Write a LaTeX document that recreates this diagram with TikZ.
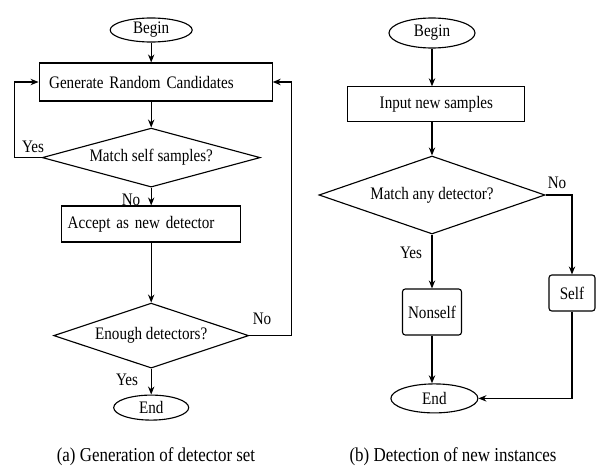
\documentclass[tikz,border=0pt]{standalone}
\usepackage{fontspec}
\setmainfont{Liberation Serif}[FakeStretch=0.86]
\usetikzlibrary{arrows.meta,positioning,shapes.geometric}
\tikzset{
  >={Stealth[length=2mm,width=1.6mm]},
  term/.style={ellipse,draw,line width=0.8pt,inner sep=0pt},
  proc/.style={draw,line width=0.8pt,inner sep=0pt},
  decide/.style={diamond,draw,line width=0.8pt,inner sep=0pt,aspect=#1},
  decide/.default=3,
  flow/.style={->,line width=0.8pt},
  tag/.style={inner sep=0pt},
  subcap/.style={font=\fontsize{14}{16}\selectfont},
}
\begin{document}
\begin{tikzpicture}[font=\fontsize{12.5}{14}\selectfont]
  \useasboundingbox (0,0) rectangle (14.975,11.65);
  % (a) generation of detector set
  \node[term,minimum width=20.5mm,minimum height=6mm] (begina) at (3.78,10.90) {Begin};
  \node[proc,minimum width=58.25mm,minimum height=9.5mm,inner xsep=2.5mm,text width=53.25mm,align=left] (gen) at (3.89,9.60) {Generate Random Candidates};
  \node[decide=3.7,minimum width=54.5mm,minimum height=14.75mm] (selfq) at (3.78,7.71) {Match self samples?};
  \node[proc,minimum width=44.75mm,minimum height=9mm,inner xsep=1.5mm,text width=41.75mm,align=left] (accept) at (3.78,6.05) {Accept as new detector};
  \node[decide=3,minimum width=48.75mm,minimum height=16.25mm] (enough) at (3.78,3.26) {Enough detectors?};
  \node[term,minimum width=18.75mm,minimum height=6.25mm] (enda) at (3.78,1.46) {End};
  \draw[flow] (begina) -- (begina |- gen.north);
  \draw[flow] (selfq |- gen.south) -- (selfq.north);
  \draw[flow] (selfq) -- (accept);
  \draw[flow] (accept) -- (enough);
  \draw[flow] (enough) -- (enda);
  \draw[flow] (selfq.west) -| ([xshift=-6mm]gen.west) -- (gen.west);
  \draw[flow] (enough.east) -| ([xshift=4.75mm]gen.east) -- (gen.east);
  \node[tag] (yesa) at (0.825,7.975) {Yes};
  \node[tag] (noa) at (3.275,6.65) {No};
  \node[tag] (nob) at (6.55,3.675) {No};
  \node[tag] (yesb) at (3.175,2.15) {Yes};
  \node[subcap] (capa) at (3.90,0.225) {(a) Generation of detector set};
  % (b) detection of new instances
  \node[term,minimum width=21.5mm,minimum height=7.5mm] (beginb) at (10.8,10.825) {Begin};
  \node[proc,minimum width=44.25mm,minimum height=8.75mm] (input) at (10.91,9.04) {Input new samples};
  \node[decide=2.9,minimum width=56.5mm,minimum height=19.5mm] (anyq) at (10.8,6.775) {Match any detector?};
  \node[proc,rounded corners=2pt,minimum width=14.75mm,minimum height=11.5mm] (nonself) at (10.8,3.85) {Nonself};
  \node[proc,rounded corners=2pt,minimum width=11.5mm,minimum height=9mm] (self) at (14.3,4.325) {Self};
  \node[term,minimum width=21.75mm,minimum height=7.25mm] (endb) at (10.86,1.69) {End};
  \draw[flow] (beginb) -- (beginb |- input.north);
  \draw[flow] (anyq |- input.south) -- (anyq.north);
  \draw[flow] (anyq) -- (nonself);
  \draw[flow] (anyq.east) -| (self.north);
  \draw[flow] (nonself) -- (nonself |- endb.north);
  \draw[flow] (self.south) |- (endb.east);
  \node[tag] (noc) at (13.925,7.075) {No};
  \node[tag] (yesc) at (10.275,5.325) {Yes};
  \node[subcap] (capb) at (11.325,0.225) {(b) Detection of new instances};
\end{tikzpicture}
\end{document}
